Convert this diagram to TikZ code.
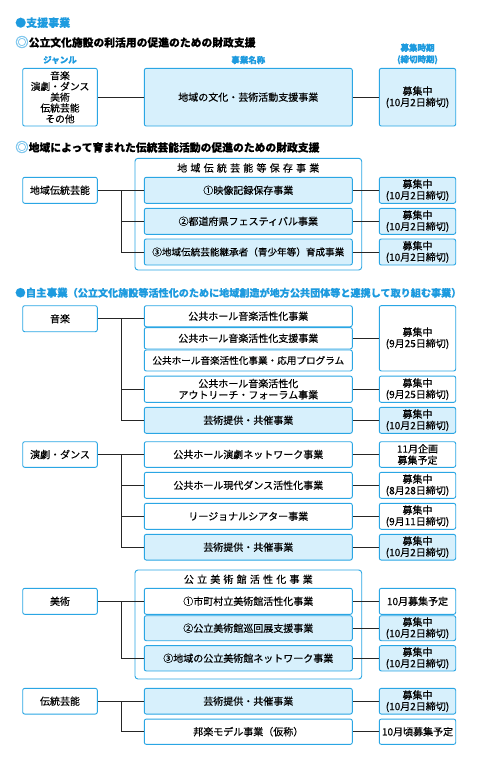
\documentclass[tikz,border=0pt]{standalone}
\usepackage{fontspec}
\setmainfont[FakeBold=0.35]{Noto Sans CJK JP}
\definecolor{bl}{HTML}{2AA6E4}
\definecolor{fillb}{HTML}{D7F0FC}
\definecolor{txtb}{HTML}{1E9BDF}
\definecolor{ring}{HTML}{7CC6EE}
\newcommand\ringmark{{\color{ring}\raisebox{-0.1ex}{\scalebox{1.25}{◎}}}}
\tikzset{
  box/.style={draw=bl, line width=0.9pt, rounded corners=2pt, fill=white, align=center, inner sep=0pt, font=\fontsize{10}{11.3}\selectfont},
  bfill/.style={fill=fillb},
  gen/.style={box, minimum width=74.6pt},
  mid/.style={box, minimum width=208pt},
  rt/.style={box, minimum width=76.4pt},
  frame/.style={draw=bl, line width=0.9pt, rounded corners=3pt, minimum width=226.7pt, inner sep=0pt},
  con/.style={draw=black!85, line width=0.8pt},
  head/.style={anchor=west, inner sep=0pt, font=\fontsize{10.8}{13}\selectfont\bfseries},
  lab/.style={inner sep=0pt, text=txtb, align=center, font=\fontsize{8.5}{11.5}\selectfont\bfseries},
  ftitle/.style={inner sep=0pt, font=\fontsize{10}{12}\selectfont}
}
\begin{document}
\begin{tikzpicture}[x=1pt,y=-1pt]
\useasboundingbox[fill=white] (0,0) rectangle (480,757);

% ---------- Section 1 ----------
\node[head, text=txtb, font=\fontsize{11}{13}\selectfont\bfseries] (h1) at (15,22.7) {●支援事業};
\node[head] (h2) at (15,42) {\ringmark 公立文化施設の利活用の促進のための財政支援};
\node[lab] (l1) at (60,60) {ジャンル};
\node[lab] (l2) at (248.3,60) {事業名称};
\node[lab] (l3) at (417.5,54) {募集時期\\(締切時期)};

\node[gen, minimum height=57.7pt, font=\fontsize{9.8}{10.8}\selectfont] (g1) at (60,97.2) {音楽\\演劇・ダンス\\美術\\伝統芸能\\その他};
\node[mid, bfill, minimum height=57.7pt] (m1) at (248.3,97.2) {地域の文化・芸術活動支援事業};
\node[rt, bfill, minimum height=57.7pt] (r1) at (417.5,97.2) {募集中\\(10月2日締切)};
\draw[con] (g1.east) -- (m1.west);
\draw[con] (m1.east) -- (r1.west);

% ---------- Section 2 ----------
\node[head] (h3) at (15,147) {\ringmark 地域によって育まれた伝統芸能活動の促進のための財政支援};
\node[frame, minimum height=111.7pt] (f2) at (248.35,214.15) {};
\node[ftitle] (f2t) at (248.3,168) {地\kern3.2pt域\kern3.2pt伝\kern3.2pt統\kern3.2pt芸\kern3.2pt能\kern3.2pt等\kern3.2pt保\kern3.2pt存\kern3.2pt事\kern3.2pt業};
\node[gen, minimum height=26pt] (g2) at (60,190.3) {地域伝統芸能};
\node[mid, bfill, minimum height=26pt] (b21) at (248.3,190.3) {①映像記録保存事業};
\node[mid, bfill, minimum height=26pt] (b22) at (248.3,221.3) {②都道府県フェスティバル事業};
\node[mid, bfill, minimum height=26pt, font=\fontsize{9.6}{11.3}\selectfont] (b23) at (248.3,252) {③地域伝統芸能継承者（青少年等）育成事業};
\node[rt, bfill, minimum height=26pt] (r21) at (417.5,190.3) {募集中\\(10月2日締切)};
\node[rt, bfill, minimum height=26pt] (r22) at (417.5,221.3) {募集中\\(10月2日締切)};
\node[rt, bfill, minimum height=26pt] (r23) at (417.5,252) {募集中\\(10月2日締切)};
\coordinate (t2) at (121.7,190.3);
\draw[con] (g2.east) -- (b21.west);
\draw[con] (t2) |- (b22.west);
\draw[con] (t2) |- (b23.west);
\draw[con] (b21.east) -- (r21.west);
\draw[con] (b22.east) -- (r22.west);
\draw[con] (b23.east) -- (r23.west);

% ---------- Section 3 ----------
\node[head, text=txtb] (h4) at (15,292.7) {{\fontsize{10.5}{13}\selectfont ●自主事業}{\fontsize{10.1}{13}\selectfont （公立文化施設等活性化のために地域創造が地方公共団体等と連携して取り組む事業）}};
\node[gen, minimum height=26pt] (g3) at (60,318.7) {音楽};
\node[mid, minimum height=21pt] (m31) at (248.3,316.2) {公共ホール音楽活性化事業};
\node[mid, minimum height=21.3pt] (m32) at (248.3,338.3) {公共ホール音楽活性化支援事業};
\node[mid, minimum height=21pt, font=\fontsize{9.6}{11.3}\selectfont] (m33) at (248.3,360.5) {公共ホール音楽活性化事業・応用プログラム};
\node[rt, minimum height=65.3pt] (r31) at (417.5,338.3) {募集中\\(9月25日締切)};
\node[mid, minimum height=26.3pt] (m34) at (248.3,389.2) {公共ホール音楽活性化\\アウトリーチ・フォーラム事業};
\node[rt, minimum height=26.3pt] (r34) at (417.5,389.2) {募集中\\(9月25日締切)};
\node[mid, bfill, minimum height=26pt] (m35) at (248.3,420.3) {芸術提供・共催事業};
\node[rt, bfill, minimum height=26pt] (r35) at (417.5,420.3) {募集中\\(10月2日締切)};
\coordinate (t3) at (121.7,318.7);
\draw[con] (g3.east) -- (g3.east -| m31.west);
\draw[con] (t3) |- (m34.west);
\draw[con] (t3) |- (m35.west);
\draw[con] (m32.east) -- (r31.west |- m32.east);
\draw[con] (m34.east) -- (r34.west);
\draw[con] (m35.east) -- (r35.west);

% ---------- Section 4 ----------
\node[gen, minimum height=25.6pt] (g4) at (60,454.5) {演劇・ダンス};
\node[mid, minimum height=25.6pt] (d1) at (248.3,454.5) {公共ホール演劇ネットワーク事業};
\node[mid, minimum height=26pt] (d2) at (248.3,485.3) {公共ホール現代ダンス活性化事業};
\node[mid, minimum height=26pt] (d3) at (248.3,516.3) {リージョナルシアター事業};
\node[mid, bfill, minimum height=25.7pt] (d4) at (248.3,547.2) {芸術提供・共催事業};
\node[rt, minimum height=25.6pt] (r41) at (417.5,454.5) {11月企画\\募集予定};
\node[rt, minimum height=26pt] (r42) at (417.5,485.3) {募集中\\(8月28日締切)};
\node[rt, minimum height=26pt] (r43) at (417.5,516.3) {募集中\\(9月11日締切)};
\node[rt, bfill, minimum height=25.7pt] (r44) at (417.5,547.2) {募集中\\(10月2日締切)};
\coordinate (t4) at (121.7,454.5);
\draw[con] (g4.east) -- (d1.west);
\draw[con] (t4) |- (d2.west);
\draw[con] (t4) |- (d3.west);
\draw[con] (t4) |- (d4.west);
\draw[con] (d1.east) -- (r41.west);
\draw[con] (d2.east) -- (r42.west);
\draw[con] (d3.east) -- (r43.west);
\draw[con] (d4.east) -- (r44.west);

% ---------- Section 5 ----------
\node[frame, minimum height=109pt] (f5) at (248.35,624.5) {};
\node[ftitle] (f5t) at (248.3,579.3) {公\kern3.2pt立\kern3.2pt美\kern3.2pt術\kern3.2pt館\kern3.2pt活\kern3.2pt性\kern3.2pt化\kern3.2pt事\kern3.2pt業};
\node[gen, minimum height=26pt] (g5) at (60,601.3) {美術};
\node[mid, minimum height=26pt] (a1) at (248.3,601.3) {①市町村立美術館活性化事業};
\node[mid, bfill, minimum height=25pt] (a2) at (248.3,628.2) {②公立美術館巡回展支援事業};
\node[mid, bfill, minimum height=25.3pt] (a3) at (248.3,658.3) {③地域の公立美術館ネットワーク事業};
\node[rt, minimum height=26pt] (r51) at (417.5,601.3) {10月募集予定};
\node[rt, bfill, minimum height=25pt] (r52) at (417.5,628.2) {募集中\\(10月2日締切)};
\node[rt, bfill, minimum height=25.3pt] (r53) at (417.5,658.3) {募集中\\(10月2日締切)};
\coordinate (t5) at (121.7,601.3);
\draw[con] (g5.east) -- (a1.west);
\draw[con] (t5) |- (a3.west);
\draw[con] (a1.east) -- (r51.west);
\draw[con] (a2.east) -- (r52.west);
\draw[con] (a3.east) -- (r53.west);

% ---------- Section 6 ----------
\node[gen, minimum height=25.7pt] (g6) at (60,701.2) {伝統芸能};
\node[mid, bfill, minimum height=25.7pt] (c1) at (248.3,701.2) {芸術提供・共催事業};
\node[mid, minimum height=25.3pt] (c2) at (248.3,731.7) {邦楽モデル事業（仮称）};
\node[rt, bfill, minimum height=25.7pt] (r61) at (417.5,701.2) {募集中\\(10月2日締切)};
\node[rt, minimum height=25.3pt] (r62) at (417.5,731.7) {10月頃募集予定};
\coordinate (t6) at (121.7,701.2);
\draw[con] (g6.east) -- (c1.west);
\draw[con] (t6) |- (c2.west);
\draw[con] (c1.east) -- (r61.west);
\draw[con] (c2.east) -- (r62.west);
\end{tikzpicture}
\end{document}
